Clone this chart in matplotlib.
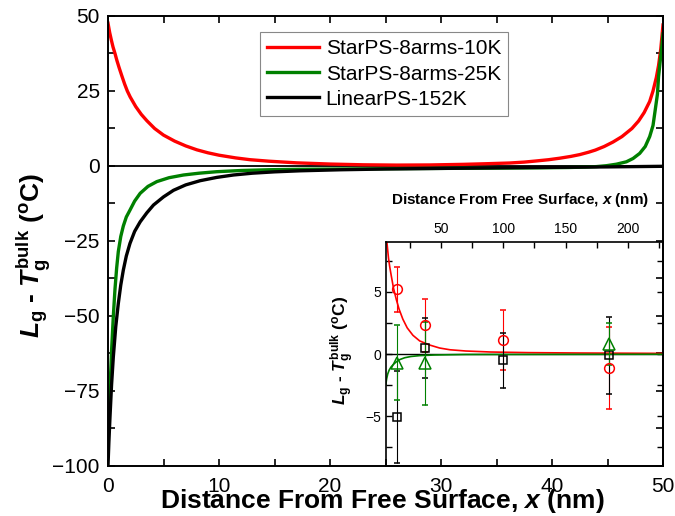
import numpy as np
import matplotlib
matplotlib.use('Agg')
import matplotlib.pyplot as plt
from matplotlib.ticker import MultipleLocator

plt.rcParams['font.family'] = ['Liberation Sans', 'DejaVu Sans']
plt.rcParams['mathtext.fontset'] = 'custom'
plt.rcParams['mathtext.rm'] = 'Liberation Sans:bold'
plt.rcParams['mathtext.it'] = 'Liberation Sans:italic:bold'
plt.rcParams['mathtext.bf'] = 'Liberation Sans:bold'

# main panel: profiles across a 50 nm film
red_x = [0, 0.15, 0.3, 0.45, 0.63, 0.8, 1.0, 1.25, 1.5, 1.74, 2.0, 2.5, 3.0, 3.5, 4.2, 5.0, 6.0, 7.0,
         8.0, 9.0, 10, 11.5, 12.8, 14.5, 17, 20, 23, 26, 29, 32, 34, 36.2, 37.5, 38.5, 39.7, 40.7,
         41.7, 42.5, 43.3, 43.9, 44.7, 45.5, 46.3, 47.2, 47.8, 48.3, 48.8, 49.1, 49.4, 49.6, 49.8, 50]
red_y = [47.6, 44.5, 42, 39.7, 37.5, 35.2, 32.8, 30, 27.3, 25, 23, 19.8, 17.2, 15.1, 12.5, 10.3, 8.3, 6.7,
         5.4, 4.4, 3.6, 2.7, 2.1, 1.6, 1.05, 0.65, 0.4, 0.3, 0.35, 0.55, 0.75, 1.0, 1.3, 1.65, 2.1, 2.6,
         3.2, 3.8, 4.6, 5.3, 6.5, 8, 9.8, 12.5, 15, 17.8, 21.5, 25, 29.5, 33.5, 39, 47]

green_x = [0, 0.08, 0.15, 0.24, 0.33, 0.48, 0.63, 0.78, 0.93, 1.15, 1.38, 1.65, 1.98, 2.4, 2.9, 3.6,
           4.4, 5.5, 6.8, 8.2, 9.8, 12, 14.5, 17.3, 21, 25, 30, 35, 39, 41.5, 43, 44, 44.9, 45.8,
           46.7, 47.3, 47.9, 48.4, 48.8, 49.1, 49.3, 49.5, 49.6, 49.75, 49.9, 50]
green_y = [-93, -85, -78, -69, -61, -50, -41, -34, -28.5, -23.5, -20, -17, -14.7, -11.7, -9.1, -6.8,
           -5.2, -3.9, -3.0, -2.4, -1.9, -1.5, -1.25, -1.1, -1.0, -0.9, -0.8, -0.7, -0.6, -0.5, -0.35,
           -0.2, 0.1, 0.6, 1.4, 2.5, 4.2, 6.5, 9.8, 13.5, 18.7, 24, 29.8, 35, 40, 44]

black_x = [0, 0.08, 0.18, 0.32, 0.48, 0.7, 0.93, 1.15, 1.38, 1.65, 1.98, 2.4, 2.9, 3.5, 4.1, 5.0,
           5.9, 7.0, 8.3, 9.8, 11.3, 13, 15, 17.3, 21, 25, 30, 35, 40, 45, 50]
black_y = [-100, -92, -83.6, -73, -63.6, -53.5, -45.8, -39.7, -34.7, -30, -25.8, -21.8, -18.6, -15.6,
           -13, -10.3, -8.1, -6.3, -4.9, -3.8, -3.0, -2.4, -1.95, -1.6, -1.25, -1.0, -0.8, -0.6, -0.45,
           -0.3, -0.1]

labels = ['StarPS-8arms-10K', 'StarPS-8arms-25K', 'LinearPS-152K']

# inset: measured points and fits
pts_x = [15, 37, 100, 185]
red_pts = [5.2, 2.3, 1.1, -1.15]
red_err = [1.8, 2.1, 2.4, 3.3]
black_pts = [-5.05, 0.5, -0.5, -0.1]
black_err = [3.7, 2.4, 2.2, 3.1]
green_pts_x = [15, 37, 185]
green_pts = [-0.7, -0.75, 0.8]
green_err = [3.0, 3.35, 1.7]

fit_red_x = [6.2, 7, 8, 9, 10.2, 12, 14.2, 16.5, 19.5, 23, 27.6, 33, 41, 49, 57.3, 70, 90, 120, 160, 228]
fit_red_y = [9.5, 8.7, 7.7, 7.0, 6.3, 5.3, 4.4, 3.6, 2.8, 2.1, 1.5, 1.05, 0.72, 0.48, 0.34, 0.24, 0.16,
             0.11, 0.08, 0.05]
fit_green_x = [5.8, 6.5, 7.4, 8.5, 10, 11.5, 14, 17, 21, 26, 33, 45, 70, 228]
fit_green_y = [-2.5, -2.0, -1.6, -1.3, -1.05, -0.88, -0.65, -0.45, -0.3, -0.2, -0.13, -0.08, -0.04, -0.02]

RED = '#ff0000'
GREEN = '#008000'

fig = plt.figure(figsize=(6.75, 5.16), dpi=100)
ax = fig.add_axes([108/675, 50/516, 555/675, 450/516])

ax.axhline(0, color='k', lw=1.3, zorder=1)
ax.plot(red_x, red_y, color=RED, lw=2.4, label=labels[0])
ax.plot(green_x, green_y, color=GREEN, lw=2.4, label=labels[1])
ax.plot(black_x, black_y, color='k', lw=2.4, label=labels[2])

ax.set_xlim(0, 50)
ax.set_ylim(-100, 50)
ax.xaxis.set_major_locator(MultipleLocator(10))
ax.xaxis.set_minor_locator(MultipleLocator(5))
ax.yaxis.set_major_locator(MultipleLocator(25))
ax.yaxis.set_minor_locator(MultipleLocator(12.5))
ax.tick_params(which='both', direction='in', top=True, right=True, length=5, width=1.2, labelsize=15)
ax.tick_params(axis='x', pad=8)
ax.tick_params(axis='y', pad=6)
for s in ax.spines.values():
    s.set_linewidth(1.4)

leg = ax.legend(loc='upper left', bbox_to_anchor=(260/675, 1 - 32/516), bbox_transform=fig.transFigure,
                borderaxespad=0, fontsize=15, handlelength=2.5, handletextpad=0.3, labelspacing=0.3,
                borderpad=0.35, fancybox=False, framealpha=1)
leg.get_frame().set_edgecolor('#888888')
leg.get_frame().set_linewidth(0.8)

fig.text(160/675, 1 - 501/516, r'Distance From Free Surface, $\mathit{x}$ (nm)', fontsize=19,
         fontweight='bold', ha='left', va='center')
fig.text(34/675, 1 - 256/516, r'$\mathit{L}_{\mathrm{g}}$ - $\mathit{T}_{\mathrm{g}}^{\mathrm{bulk}}$ ($^{\mathrm{o}}$C)',
         fontsize=19, fontweight='bold', rotation=90, ha='center', va='center')

# inset
ins = fig.add_axes([386/675, 50/516, 277/675, 224/516])
ins.patch.set_facecolor('none')
ins.axhline(0, color='k', lw=1.0, zorder=1)
ins.plot(fit_red_x, fit_red_y, color=RED, lw=1.2)
ins.plot(fit_green_x, fit_green_y, color=GREEN, lw=1.2)
ins.errorbar(pts_x, red_pts, yerr=red_err, fmt='o', ms=7, mfc='none', mec=RED, mew=1.1,
             ecolor=RED, elinewidth=0.8, capsize=2.5, capthick=0.8)
ins.errorbar(pts_x, black_pts, yerr=black_err, fmt='s', ms=6, mfc='none', mec='k', mew=1.1,
             ecolor='k', elinewidth=0.8, capsize=2.5, capthick=0.8)
ins.errorbar(green_pts_x, green_pts, yerr=green_err, fmt='^', ms=8, mfc='none', mec=GREEN, mew=1.1,
             ecolor=GREEN, elinewidth=0.8, capsize=2.5, capthick=0.8)
ins.set_xlim(6, 228)
ins.set_ylim(-9, 9)
ins.xaxis.set_major_locator(MultipleLocator(50))
ins.xaxis.set_minor_locator(MultipleLocator(25))
ins.yaxis.set_major_locator(MultipleLocator(5))
ins.yaxis.set_minor_locator(MultipleLocator(2.5))
ins.xaxis.tick_top()
ins.tick_params(which='both', direction='in', top=True, bottom=False, right=True, length=4, width=1.0,
                labelsize=10)
ins.tick_params(axis='x', labelbottom=False, labeltop=True, pad=4)
for s in ins.spines.values():
    s.set_linewidth(1.2)

fig.text(520/675, 1 - 200/516, r'Distance From Free Surface, $\mathit{x}$ (nm)', fontsize=11,
         fontweight='bold', ha='center', va='center')
fig.text(343/675, 1 - 350/516, r'$\mathit{L}_{\mathrm{g}}$ - $\mathit{T}_{\mathrm{g}}^{\mathrm{bulk}}$ ($^{\mathrm{o}}$C)',
         fontsize=12.5, fontweight='bold', rotation=90, ha='center', va='center')

fig.savefig('out.png', dpi=100)
